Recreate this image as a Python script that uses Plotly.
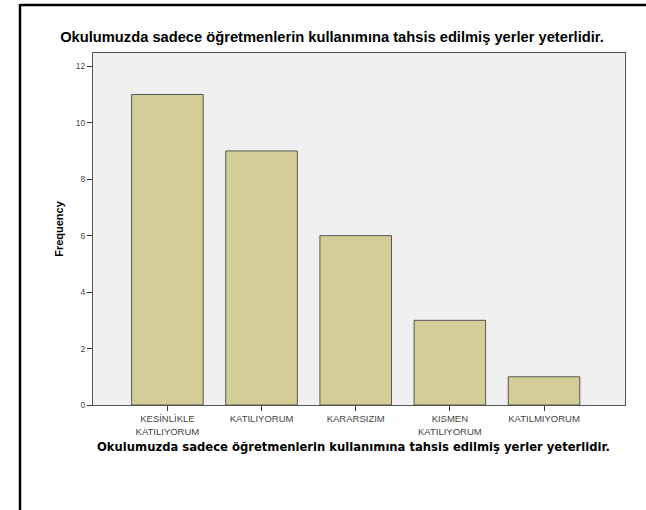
import plotly.graph_objects as go

categories = ["KESİNLİKLE<br>KATILIYORUM", "KATILIYORUM", "KARARSIZIM", "KISMEN<br>KATILIYORUM", "KATILMIYORUM"]
frequency = [11, 9, 6, 3, 1]
y_ticks = [0, 2, 4, 6, 8, 10, 12]
title_text = "Okulumuzda sadece öğretmenlerin kullanımına tahsis edilmiş yerler yeterlidir."

W, H = 646, 510
L, R, T, B = 93, 21, 53, 105
pw, ph = W - L - R, H - T - B

def px_x(x):
    return (x - L) / pw

def px_y(y):
    return 1 - (y - T) / ph

fig = go.Figure(go.Bar(
    x=list(range(len(categories))),
    y=frequency,
    width=0.76,
    marker=dict(color="#d3ce97", line=dict(color="#555555", width=1)),
))

fig.update_layout(
    width=W, height=H,
    margin=dict(l=L, r=R, t=T, b=B),
    paper_bgcolor="white",
    plot_bgcolor="#f0f0f0",
    showlegend=False,
    title=dict(text="<b>" + title_text + "</b>", xref="paper", x=px_x(332), xanchor="center",
               yref="container", y=1 - 37 / H, yanchor="middle",
               font=dict(family="Liberation Sans, Arial", size=14.7, color="black")),
    xaxis=dict(
        tickmode="array", tickvals=list(range(len(categories))), ticktext=categories,
        range=[-0.79, 4.86], showgrid=False, zeroline=False,
        ticks="outside", ticklen=5, tickcolor="#333333",
        tickfont=dict(family="Liberation Sans, Arial", size=9.5, color="#444444"),
        showline=True, linecolor="#555555", linewidth=1, mirror=True,
    ),
    yaxis=dict(
        range=[0, 12.47], tickvals=y_ticks, showgrid=False, zeroline=False,
        ticks="outside", ticklen=5, tickcolor="#333333",
        tickfont=dict(family="Liberation Sans, Arial", size=8.5, color="#444444"),
        showline=True, linecolor="#555555", linewidth=1, mirror=True,
        title=dict(text="<b>Frequency</b>", standoff=9,
                   font=dict(family="Liberation Sans, Arial", size=11, color="black")),
    ),
    annotations=[
        dict(text="<b>" + title_text + "</b>", xref="paper", yref="paper",
             x=px_x(353), y=px_y(447), xanchor="center", yanchor="middle",
             showarrow=False,
             font=dict(family="DejaVu Sans, Verdana", size=11.6, color="black")),
    ],
    shapes=[
        dict(type="line", xref="paper", yref="paper",
             x0=px_x(20), x1=px_x(W + 5), y0=px_y(5), y1=px_y(5),
             line=dict(color="black", width=2.5)),
        dict(type="line", xref="paper", yref="paper",
             x0=px_x(20), x1=px_x(20), y0=px_y(4), y1=px_y(H + 5),
             line=dict(color="black", width=2.5)),
    ],
)

fig.write_html("out.html", config={"displayModeBar": False},
               post_script="document.body.style.margin='0';")
